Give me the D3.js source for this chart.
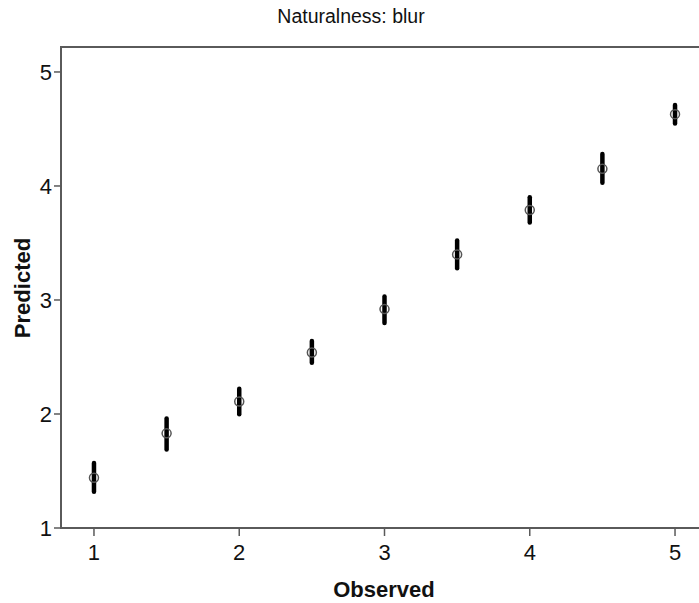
<!DOCTYPE html>
<html>
<head>
<meta charset="utf-8">
<script src="https://cdn.jsdelivr.net/npm/d3@7"></script>
<style>
  html, body { margin: 0; padding: 0; background: #fff; }
  svg { display: block; font-family: Arial, "Liberation Sans", sans-serif; }
</style>
</head>
<body>
<svg id="chart" width="699" height="603"></svg>
<script>
// Observed rating levels and the model's predicted means with interval bounds
const observed  = [1, 1.5, 2, 2.5, 3, 3.5, 4, 4.5, 5];
const predicted = [1.44, 1.83, 2.11, 2.54, 2.92, 3.40, 3.79, 4.15, 4.63];
const lower     = [1.31, 1.68, 1.99, 2.44, 2.79, 3.27, 3.67, 4.02, 4.54];
const upper     = [1.58, 1.97, 2.23, 2.65, 3.04, 3.53, 3.91, 4.29, 4.72];
const xTicks = [1, 2, 3, 4, 5];
const yTicks = [1, 2, 3, 4, 5];

const svg = d3.select("#chart");
const plotLeft = 61, plotRight = 708, plotTop = 47, plotBottom = 528;

const x = d3.scaleLinear().domain([0.773, 5.227]).range([plotLeft, plotRight]);
const y = d3.scaleLinear().domain([1, 5.219]).range([plotBottom, plotTop]);

const frameColor = "#5a5a5a";

// Frame: top, left and bottom edges
svg.append("path")
  .attr("d", `M${plotRight},${plotTop}H${plotLeft}V${plotBottom}H${plotRight}`)
  .attr("fill", "none")
  .attr("stroke", frameColor)
  .attr("stroke-width", 2);

// Y axis ticks and labels
const yAxis = svg.append("g");
yAxis.selectAll("line").data(yTicks).join("line")
  .attr("x1", plotLeft - 7).attr("x2", plotLeft)
  .attr("y1", d => y(d)).attr("y2", d => y(d))
  .attr("stroke", frameColor).attr("stroke-width", 1.5);
yAxis.selectAll("text").data(yTicks).join("text")
  .attr("x", plotLeft - 9).attr("y", d => y(d))
  .attr("dy", "0.36em")
  .attr("text-anchor", "end")
  .attr("font-size", 22)
  .attr("fill", "#111")
  .text(d => d);

// X axis ticks and labels
const xAxis = svg.append("g");
xAxis.selectAll("line").data(xTicks).join("line")
  .attr("x1", d => x(d)).attr("x2", d => x(d))
  .attr("y1", plotBottom).attr("y2", plotBottom + 8)
  .attr("stroke", frameColor).attr("stroke-width", 1.5);
xAxis.selectAll("text").data(xTicks).join("text")
  .attr("x", d => x(d)).attr("y", plotBottom + 32)
  .attr("text-anchor", "middle")
  .attr("font-size", 22)
  .attr("fill", "#111")
  .text(d => d);

// Titles
svg.append("text")
  .attr("x", 351).attr("y", 23)
  .attr("text-anchor", "middle")
  .attr("font-size", 19.5)
  .attr("fill", "#111")
  .text("Naturalness: blur");

svg.append("text")
  .attr("x", 384).attr("y", 597)
  .attr("text-anchor", "middle")
  .attr("font-size", 22)
  .attr("font-weight", "bold")
  .attr("fill", "#111")
  .text("Observed");

svg.append("text")
  .attr("transform", `translate(30,${288}) rotate(-90)`)
  .attr("text-anchor", "middle")
  .attr("font-size", 22)
  .attr("font-weight", "bold")
  .attr("fill", "#111")
  .text("Predicted");

// Interval bars and point markers
const pts = observed.map((o, i) => ({ o, p: predicted[i], lo: lower[i], hi: upper[i] }));

svg.append("g").selectAll("line").data(pts).join("line")
  .attr("x1", d => x(d.o)).attr("x2", d => x(d.o))
  .attr("y1", d => y(d.lo) - 1).attr("y2", d => y(d.hi) + 1)
  .attr("stroke", "#000")
  .attr("stroke-linecap", "round")
  .attr("stroke-width", 4.5);

svg.append("g").selectAll("circle").data(pts).join("circle")
  .attr("cx", d => x(d.o)).attr("cy", d => y(d.p))
  .attr("r", 4.5)
  .attr("fill", "none")
  .attr("stroke", "#555")
  .attr("stroke-width", 1.5);
</script>
</body>
</html>
